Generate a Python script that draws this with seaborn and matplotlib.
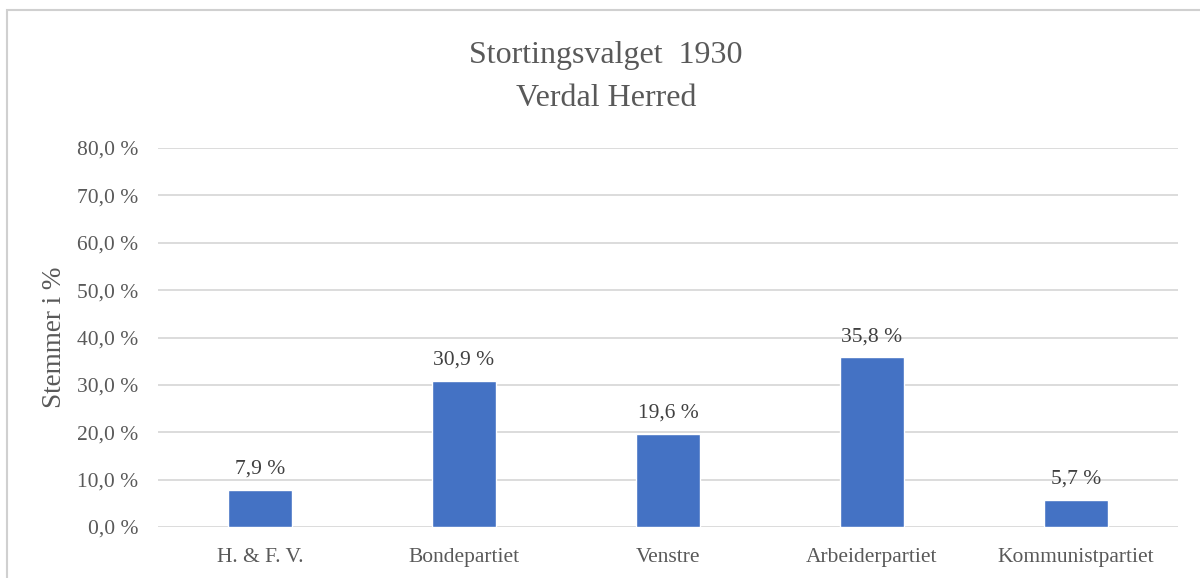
import matplotlib
matplotlib.use("Agg")
import matplotlib.pyplot as plt
import seaborn as sns
import pandas as pd
from matplotlib.patches import Rectangle
from matplotlib.ticker import FuncFormatter

partier = ["H. & F. V.", "Bondepartiet", "Venstre", "Arbeiderpartiet", "Kommunistpartiet"]
stemmer = [7.9, 30.9, 19.6, 35.8, 5.7]
y_ticks = [0, 10, 20, 30, 40, 50, 60, 70, 80]

df = pd.DataFrame({"Parti": partier, "Stemmer": stemmer})

sns.set_style("white")
plt.rcParams["font.family"] = ["Liberation Serif", "DejaVu Serif"]
grey = "#595959"

fig = plt.figure(figsize=(12, 5.78), dpi=100)
ax = fig.add_axes([158 / 1200, 1 - 527 / 578, 1020 / 1200, (527 - 148) / 578])

sns.barplot(data=df, x="Parti", y="Stemmer", color="#4472C4", width=0.31,
            saturation=1, ax=ax, zorder=3)

ax.set_ylim(0, 80)
ax.set_xlim(-0.5, len(partier) - 0.5)
ax.set_yticks(y_ticks)
ax.yaxis.set_major_formatter(FuncFormatter(lambda v, p: f"{v:.1f} %".replace(".", ",")))
ax.grid(axis="y", color="#d9d9d9", linewidth=1.3, zorder=0)
ax.set_axisbelow(True)
for s in ax.spines.values():
    s.set_visible(False)
ax.tick_params(axis="both", length=0, labelsize=15.5, colors=grey)
ax.tick_params(axis="y", pad=14)
ax.tick_params(axis="x", pad=15)

ax.set_xlabel("")
ax.set_ylabel("Stemmer i %", fontsize=19.5, color=grey, labelpad=7)

ax.bar_label(ax.containers[0], labels=[f"{v:.1f} %".replace(".", ",") for v in stemmer],
             padding=8, fontsize=15.5, color="#404040")

fig.text(0.505, 1 - 55 / 578, "Stortingsvalget  1930", ha="center", va="center",
         fontsize=23, color=grey)
fig.text(0.505, 1 - 99 / 578, "Verdal Herred", ha="center", va="center",
         fontsize=23, color=grey)

fig.patches.append(Rectangle((7 / 1200, -0.05), 1.2, 1 - 10 / 578 + 0.05,
                             transform=fig.transFigure, fill=False,
                             edgecolor="#d0d0d0", linewidth=1.5))

fig.savefig("out.png", dpi=100)
